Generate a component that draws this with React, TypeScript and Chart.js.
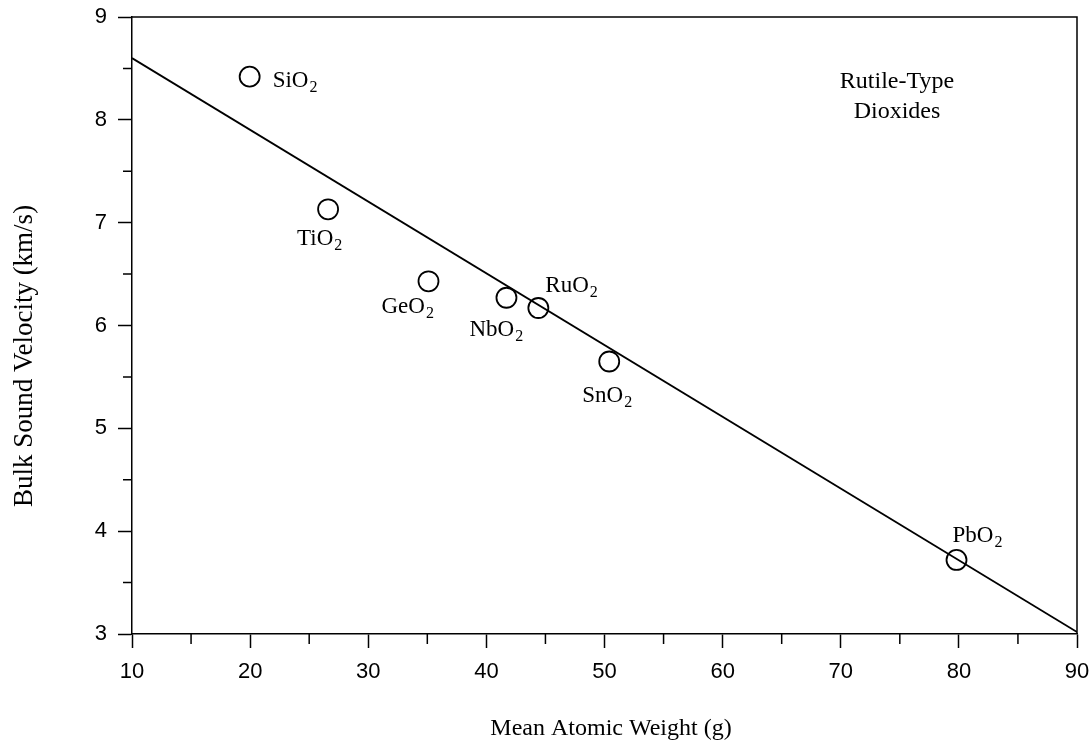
import React, { useEffect, useRef } from 'react';
import { Chart, registerables } from 'chart.js';
Chart.register(...registerables);

// ---- data ----
const compounds = ['SiO2', 'TiO2', 'GeO2', 'NbO2', 'RuO2', 'SnO2', 'PbO2'];
const meanAtomicWeight = [19.96, 26.6, 35.1, 41.7, 44.4, 50.4, 79.8];
const bulkSoundVelocity = [8.42, 7.13, 6.43, 6.27, 6.17, 5.65, 3.72];
const fitX = [10, 90];
const fitY = [8.6, 3.02];
const xTickValues = [10, 20, 30, 40, 50, 60, 70, 80, 90];
const yTickValues = [3, 4, 5, 6, 7, 8, 9];
const xMinorTicks = [15, 25, 35, 45, 55, 65, 75, 85];
const yMinorTicks = [3.5, 4.5, 5.5, 6.5, 7.5, 8.5];
const xTitle = 'Mean Atomic Weight (g)';
const yTitle = 'Bulk Sound Velocity (km/s)';
const noteLines = ['Rutile-Type', 'Dioxides'];

// ---- styling (pixel offsets of labels relative to their points) ----
const labelOffsets: [number, number][] = [
  [23, 10], [-31, 36], [-47, 32], [-37, 38], [7, -16], [-27, 41], [-4, -18],
];

const SERIF = '"Liberation Serif", "Times New Roman", serif';
const SANS = '"Liberation Sans", Arial, sans-serif';

const decorPlugin = {
  id: 'decor',
  afterDraw(chart: any) {
    const ctx = chart.ctx;
    const { left, right, top, bottom } = chart.chartArea;
    const xs = chart.scales.x;
    const ys = chart.scales.y;
    ctx.save();
    ctx.strokeStyle = '#000';
    ctx.lineWidth = 1.5;
    // frame top / right
    ctx.beginPath();
    ctx.moveTo(left, top);
    ctx.lineTo(right, top);
    ctx.lineTo(right, bottom);
    ctx.stroke();
    // minor ticks
    ctx.beginPath();
    xMinorTicks.forEach((v) => {
      const px = xs.getPixelForValue(v);
      ctx.moveTo(px, bottom);
      ctx.lineTo(px, bottom + 10);
    });
    yMinorTicks.forEach((v) => {
      const py = ys.getPixelForValue(v);
      ctx.moveTo(left - 9, py);
      ctx.lineTo(left, py);
    });
    ctx.stroke();

    // point labels with subscripts
    ctx.fillStyle = '#000';
    ctx.textBaseline = 'alphabetic';
    ctx.textAlign = 'left';
    compounds.forEach((name, i) => {
      const px = xs.getPixelForValue(meanAtomicWeight[i]);
      const py = ys.getPixelForValue(bulkSoundVelocity[i]);
      const [dx, dy] = labelOffsets[i];
      const base = name.slice(0, -1);
      const sub = name.slice(-1);
      ctx.font = `23px ${SERIF}`;
      ctx.fillText(base, px + dx, py + dy);
      const w = ctx.measureText(base).width;
      ctx.font = `16px ${SERIF}`;
      ctx.fillText(sub, px + dx + w + 1, py + dy + 5);
    });

    // note
    ctx.font = `24px ${SERIF}`;
    ctx.textAlign = 'center';
    ctx.fillText(noteLines[0], 897, 88);
    ctx.fillText(noteLines[1], 897, 118);

    // axis titles
    ctx.font = `24px ${SERIF}`;
    ctx.fillText(xTitle, 611, 735);
    ctx.save();
    ctx.translate(32, 356);
    ctx.rotate(-Math.PI / 2);
    ctx.font = `27px ${SERIF}`;
    ctx.fillText(yTitle, 0, 0);
    ctx.restore();
    ctx.restore();
  },
};

export default function App() {
  const ref = useRef<HTMLCanvasElement>(null);
  useEffect(() => {
    document.body.style.margin = '0';
    const canvas = ref.current!;
    const chart = new Chart(canvas, {
      type: 'scatter',
      data: {
        datasets: [
          {
            type: 'line',
            data: fitX.map((x, i) => ({ x, y: fitY[i] })),
            borderColor: '#000',
            borderWidth: 1.8,
            pointRadius: 0,
            fill: false,
          } as any,
          {
            data: meanAtomicWeight.map((x, i) => ({ x, y: bulkSoundVelocity[i] })),
            pointRadius: 10,
            pointHoverRadius: 10,
            pointBorderWidth: 1.8,
            borderColor: '#000',
            backgroundColor: 'rgba(0,0,0,0)',
            showLine: false,
          },
        ],
      },
      options: {
        animation: false,
        responsive: false,
        devicePixelRatio: 1,
        layout: { padding: { top: 17, right: 13, left: 0, bottom: 0 } },
        plugins: { legend: { display: false }, tooltip: { enabled: false } },
        scales: {
          x: {
            type: 'linear',
            min: xTickValues[0],
            max: xTickValues[xTickValues.length - 1],
            afterBuildTicks: (s: any) => { s.ticks = xTickValues.map((v) => ({ value: v })); },
            afterFit: (s: any) => { s.height = 106; s.paddingLeft = 0; s.paddingRight = 0; },
            grid: { display: true, drawOnChartArea: false, drawTicks: true, tickLength: 14, tickColor: '#000', tickWidth: 1.5 },
            border: { display: true, color: '#000', width: 1.5 },
            ticks: { color: '#000', font: { family: SANS, size: 22 }, padding: 11, maxRotation: 0 },
          },
          y: {
            type: 'linear',
            min: yTickValues[0],
            max: yTickValues[yTickValues.length - 1],
            afterBuildTicks: (s: any) => { s.ticks = yTickValues.map((v) => ({ value: v })); },
            afterFit: (s: any) => { s.width = 132; s.paddingTop = 0; s.paddingBottom = 0; },
            grid: { display: true, drawOnChartArea: false, drawTicks: true, tickLength: 14, tickColor: '#000', tickWidth: 1.5 },
            border: { display: true, color: '#000', width: 1.5 },
            ticks: { color: '#000', font: { family: SANS, size: 22 }, padding: 11 },
          },
        },
      },
      plugins: [decorPlugin],
    });
    return () => chart.destroy();
  }, []);
  return <canvas ref={ref} width={1090} height={740} style={{ display: 'block', width: 1090, height: 740 }} />;
}
